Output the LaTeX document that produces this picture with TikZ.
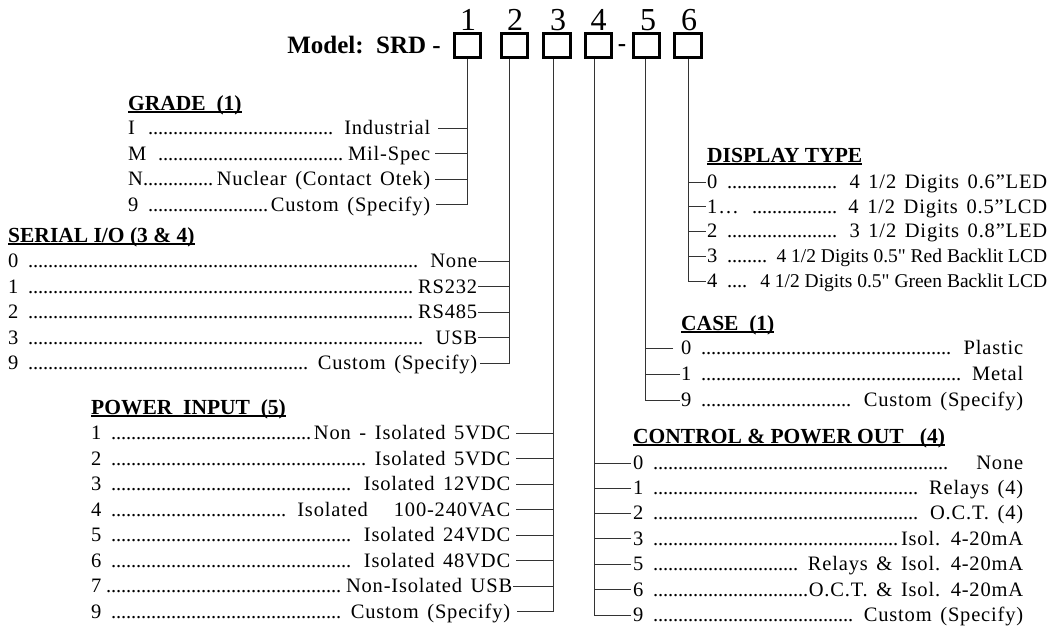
\documentclass[tikz,border=0pt]{standalone}
\usepackage{fontspec}
\setmainfont{Liberation Serif}
\newfontfamily\rf[LetterSpace=4,WordSpace=1.45]{Liberation Serif}
\newfontfamily\pf[Ligatures=TeXOff]{Liberation Serif}
\newcommand\dl{\leaders\hbox to 5pt{\hss.\hss}\hfill}
\newcommand\rw[2]{\hbox to #1pt{#2}}
\newcommand\ul[1]{\setbox0\hbox{#1}\rlap{\rule[-2.6pt]{\wd0}{1.2pt}}\box0}
\newcommand\sm[1]{{\pf\fontsize{19.5}{22}\selectfont #1}}
\begin{document}
\begin{tikzpicture}[x=1pt,y=-1pt,
  row/.style={anchor=west,inner sep=0pt,text height=13pt,text depth=0pt,font=\rf\fontsize{20.5}{24}\selectfont},
  ttl/.style={anchor=west,inner sep=0pt,text height=14pt,text depth=0pt,font=\bfseries\fontsize{21.5}{24}\selectfont},
  box/.style={draw,line width=2.6pt,minimum width=26.5pt,minimum height=24.5pt,inner sep=0pt},
  ln/.style={line width=0.9pt,draw=black!80},
  num/.style={inner sep=0pt,anchor=base,font=\fontsize{32}{36}\selectfont},
  bld/.style={inner sep=0pt,font=\bfseries\fontsize{25}{28}\selectfont},
]
\fill[white] (0,0) rectangle (1052,630);
\useasboundingbox (0,0) rectangle (1052,630);

% header
\node[bld,anchor=base east] (model) at (441,53) {Model:\ \ SRD -};
\node[box] (b1) at (467.5,45.5) {};
\node[box] (b2) at (514.5,45.5) {};
\node[box] (b3) at (557,45.5) {};
\node[box] (b4) at (598.5,45.5) {};
\node[bld,anchor=base] (dash) at (622,51.5) {-};
\node[box] (b5) at (646.5,45.5) {};
\node[box] (b6) at (688,45.5) {};
\node[num] (n1) at (468,30) {1};
\node[num] (n2) at (515,30) {2};
\node[num] (n3) at (558,30) {3};
\node[num] (n4) at (598.5,30) {4};
\node[num] (n5) at (648,30) {5};
\node[num] (n6) at (689,30) {6};

\coordinate (t1) at (b1.south);
\coordinate (t2) at ([xshift=-5pt]b2.south);
\coordinate (t3) at ([xshift=-4pt]b3.south);
\coordinate (t4) at ([xshift=-4.5pt]b4.south);
\coordinate (t5) at ([xshift=-1.5pt]b5.south);
\coordinate (t6) at (b6.south);

% GRADE
\node[ttl] (gt) at (128,103) {\ul{GRADE\ \ (1)}};
\node[row] (g1) at (128,128) {\rw{302}{I \dl\ Industrial}};
\node[row] (g2) at (128,153.5) {\rw{302}{M \dl Mil-Spec}};
\node[row] (g3) at (128,179) {\rw{302}{N\dl Nuclear (Contact Otek)}};
\node[row] (g4) at (128,204.5) {\rw{302}{9 \dl Custom (Specify)}};

% SERIAL
\node[ttl] (st) at (8,235) {\ul{SERIAL I/O (3 \& 4)}};
\node[row] (s0) at (8,261) {\rw{469}{0 \dl\ None}};
\node[row] (s1) at (8,286.5) {\rw{469}{1 \dl RS232}};
\node[row] (s2) at (8,312) {\rw{469}{2 \dl RS485}};
\node[row] (s3) at (8,337.5) {\rw{469}{3 \dl\ USB}};
\node[row] (s4) at (8,363) {\rw{469}{9 \dl\ Custom (Specify)}};

% POWER INPUT
\node[ttl] (pt) at (91,407) {\ul{POWER\ \ INPUT\ \ (5)}};
\node[row] (p1) at (91,433) {\rw{419}{1 \dl Non - Isolated 5VDC}};
\node[row] (p2) at (91,458.5) {\rw{419}{2 \dl\ Isolated 5VDC}};
\node[row] (p3) at (91,484) {\rw{419}{3 \dl\ Isolated 12VDC}};
\node[row] (p4) at (91,509.5) {\rw{419}{4 \dl\ Isolated\ \ \ 100-240VAC}};
\node[row] (p5) at (91,535) {\rw{419}{5 \dl\ Isolated 24VDC}};
\node[row] (p6) at (91,560.5) {\rw{419}{6 \dl\ Isolated 48VDC}};
\node[row] (p7) at (91,586) {\rw{421}{7\dl Non-Isolated USB}};
\node[row] (p9) at (91,611.5) {\rw{419}{9 \dl\ Custom (Specify)}};

% DISPLAY TYPE
\node[ttl] (dt) at (707,155) {\ul{DISPLAY TYPE}};
\node[row] (d0) at (707,182) {\rw{340}{0 \dl\ 4 1/2 Digits 0.6”LED}};
\node[row] (d1) at (707,206.5) {\rw{340}{1… \dl\ 4 1/2 Digits 0.5”LCD}};
\node[row] (d2) at (707,231) {\rw{340}{2 \dl\ 3 1/2 Digits 0.8”LED}};
\node[row] (d3) at (707,256) {\rw{340}{3 \dl\ \sm{4 1/2 Digits 0.5" Red Backlit LCD}}};
\node[row] (d4) at (707,281) {\rw{340}{4 \dl\ \sm{4 1/2 Digits 0.5" Green Backlit LCD}}};

% CASE
\node[ttl] (ct) at (681,323) {\ul{CASE\ \ (1)}};
\node[row] (c0) at (681,348) {\rw{342}{0 \dl\ Plastic}};
\node[row] (c1) at (681,374) {\rw{342}{1 \dl\ Metal}};
\node[row] (c2) at (681,400) {\rw{342}{9 \dl\ Custom (Specify)}};

% CONTROL & POWER OUT
\node[ttl] (kt) at (633,436) {\ul{CONTROL \& POWER OUT\ \ \ (4)}};
\node[row] (k0) at (633,463) {\rw{390}{0 \dl\ \ \ None}};
\node[row] (k1) at (633,488) {\rw{390}{1 \dl\ Relays (4)}};
\node[row] (k2) at (633,513) {\rw{390}{2 \dl\ O.C.T. (4)}};
\node[row] (k3) at (633,538.5) {\rw{390}{3 \dl Isol. 4-20mA}};
\node[row] (k5) at (633,564) {\rw{390}{5 \dl\ Relays \& Isol. 4-20mA}};
\node[row] (k6) at (633,589.5) {\rw{390}{6 \dl O.C.T. \& Isol. 4-20mA}};
\node[row] (k9) at (633,615) {\rw{390}{9 \dl\ Custom (Specify)}};

% connectors
\draw[ln] (t1) |- ([xshift=6pt]g4.east);
\draw[ln] ([xshift=8pt]g1.east) -- (g1.east -| t1);
\foreach \n in {g2,g3} \draw[ln] ([xshift=5pt]\n.east) -- (\n.east -| t1);

\draw[ln] (t2) |- ([xshift=3pt]s4.east);
\foreach \n in {s0,s1,s2,s3} \draw[ln] ([xshift=1pt]\n.east) -- (\n.east -| t2);

\draw[ln] (t3) |- ([xshift=7pt]p9.east);
\foreach \n in {p1,p2,p3,p4,p5,p6} \draw[ln] ([xshift=6pt]\n.east) -- (\n.east -| t3);
\draw[ln] ([xshift=1pt]p7.east) -- (p7.east -| t3);

\draw[ln] (t6) |- ([xshift=-1.5pt]d4.west);
\foreach \n in {d0,d1,d2,d3} \draw[ln] ([xshift=-1.5pt]\n.west) -- (\n.west -| t6);

\draw[ln] (t5) |- ([xshift=-1pt]c2.west);
\draw[ln] ([xshift=-8pt]c0.west) -- (c0.west -| t5);
\draw[ln] ([xshift=-1pt]c1.west) -- (c1.west -| t5);

\draw[ln] (t4) |- ([xshift=-2pt]k9.west);
\foreach \n in {k0,k1,k2,k3,k5,k6} \draw[ln] ([xshift=-2pt]\n.west) -- (\n.west -| t4);
\end{tikzpicture}
\end{document}
